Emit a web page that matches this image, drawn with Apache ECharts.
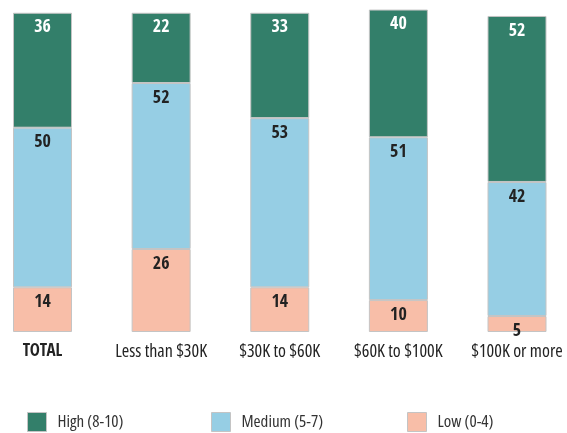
<!DOCTYPE html>
<html><head><meta charset="utf-8">
<script src="https://cdn.jsdelivr.net/npm/echarts@6/dist/echarts.min.js"></script>
<style>html,body{margin:0;padding:0;background:#fff}#c{width:567px;height:433px}</style>
</head><body><div id="c"></div>
<script>
const categories = ['TOTAL', 'Less than $30K', '$30K to $60K', '$60K to $100K', '$100K or more'];
const lowValues = [14, 26, 14, 10, 5];
const mediumValues = [50, 52, 53, 51, 42];
const highValues = [36, 22, 33, 40, 52];
const seriesNames = ['High (8-10)', 'Medium (5-7)', 'Low (0-4)'];

const FONT_REG = '"Open Sans", sans-serif';
const W_REG = 'normal condensed';
const FONT_BOLD = '"Open Sans Condensed", sans-serif';
const colors = { high: '#337f6a', medium: '#96cee4', low: '#f8bea8' };
const border = '#c4c4c4';

function mk(name, data, color, labelColor) {
  return {
    name, type: 'bar', stack: 'a', data, barWidth: 59,
    itemStyle: { color, borderColor: border, borderWidth: 1 },
    label: { show: true, position: 'insideTop', distance: 6, color: labelColor,
      fontFamily: FONT_BOLD, fontWeight: 'bold', fontSize: 18 },
    emphasis: { disabled: true }
  };
}
const chart = echarts.init(document.getElementById('c'));
const legendBase = { orient: 'horizontal', top: 412, itemWidth: 19, itemHeight: 19, itemGap: 0,
  textStyle: { fontFamily: FONT_REG, fontWeight: W_REG, fontSize: 17, color: '#333', padding: [0,0,0,6] },
  icon: 'rect', padding: 0, itemStyle: { borderColor: border, borderWidth: 1 } };
chart.setOption({
  animation: false,
  grid: { left: 42.5, right: 50, top: 0, bottom: 101 },
  xAxis: { type: 'category', data: categories, boundaryGap: false,
    axisLine: { show: false }, axisTick: { show: false },
    axisLabel: { interval: 0, margin: 11, color: '#222', fontFamily: FONT_REG, fontWeight: W_REG, fontSize: 18,
      formatter: v => v === 'TOTAL' ? '{b|' + v + '}' : v,
      rich: { b: { fontWeight: 'bold', fontFamily: FONT_BOLD, fontSize: 17, color: '#222' } } } },
  yAxis: { type: 'value', min: 0, max: 104, show: false, splitLine: { show: false } },
  legend: [
    Object.assign({}, legendBase, { left: 27, data: [seriesNames[0]] }),
    Object.assign({}, legendBase, { left: 211, data: [seriesNames[1]] }),
    Object.assign({}, legendBase, { left: 407, data: [seriesNames[2]] })
  ],
  series: [
    mk(seriesNames[2], lowValues, colors.low, '#222'),
    mk(seriesNames[1], mediumValues, colors.medium, '#222'),
    mk(seriesNames[0], highValues, colors.high, '#fff')
  ]
});
</script></body></html>
